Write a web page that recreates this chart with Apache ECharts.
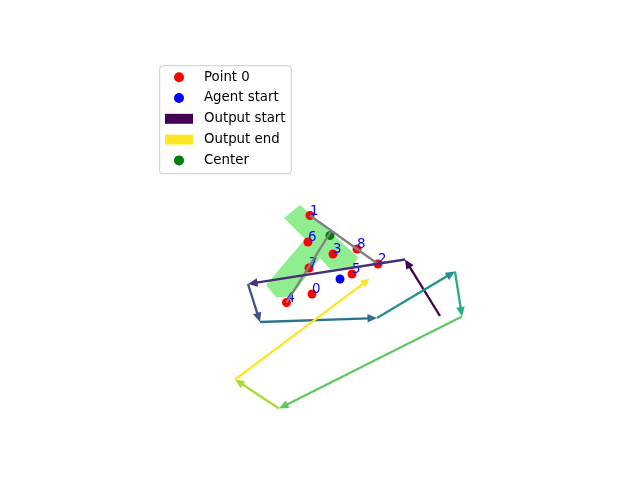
<!DOCTYPE html>
<html><head><meta charset="utf-8">
<script src="https://cdn.jsdelivr.net/npm/echarts@6/dist/echarts.min.js"></script>
<style>html,body{margin:0;padding:0;background:#fff}#chart{width:640px;height:480px}</style>
</head><body><div id="chart"></div>
<script>
// ---- data (figure units: x to the right, y downward) ----
const pointLabels = ['0', '1', '2', '3', '4', '5', '6', '7', '8'];
const pointX = [312, 310, 378, 333, 286.5, 352, 308, 309, 357];
const pointY = [294, 215.5, 264, 254, 302.5, 274, 242, 268, 249];
const agentStart = [340, 279];
const centerPoint = [330, 235.5];
const guideStartX = [310, 331.5];
const guideStartY = [215.5, 230.5];
const guideEndX = [378, 286.5];
const guideEndY = [264, 302.5];
const outputX = [440, 405, 248, 260, 377, 455, 462, 279, 235, 370];
const outputY = [316, 259.5, 284, 322, 318, 271.5, 316.5, 408.5, 379.5, 278.5];
const maskX = [300, 358, 352, 330, 320, 291, 276, 266, 305, 284];
const maskY = [205, 257, 268, 269, 258, 297, 297, 285, 239, 218];
const legendNames = ['Point 0', 'Agent start', 'Output start', 'Output end', 'Center'];

// ---- styles ----
const viridis = ['#440154', '#472d7b', '#3b528b', '#2c728e', '#21918c', '#28ae80', '#5ec962', '#addc30', '#fde725'];
const FONT = 'DejaVu Sans';
const HEAD_LEN = 9.5, HEAD_W = 8.5;
const LINE_W = 2.3;

const segments = [];
for (let i = 0; i < outputX.length - 1; i++) {
  segments.push([outputX[i], outputY[i], outputX[i + 1], outputY[i + 1], i]);
}
const guides = guideStartX.map((x, i) => [x, guideStartY[i], guideEndX[i], guideEndY[i]]);

function arrowRender(params, api) {
  const a = api.coord([api.value(0), api.value(1)]);
  const b = api.coord([api.value(2), api.value(3)]);
  const color = viridis[api.value(4)];
  const dx = b[0] - a[0], dy = b[1] - a[1];
  const len = Math.hypot(dx, dy);
  const ux = dx / len, uy = dy / len;
  const base = [b[0] - ux * HEAD_LEN, b[1] - uy * HEAD_LEN];
  const hw = HEAD_W / 2;
  return {
    type: 'group',
    children: [
      { type: 'line', shape: { x1: a[0], y1: a[1], x2: base[0] + ux, y2: base[1] + uy },
        style: { stroke: color, lineWidth: LINE_W } },
      { type: 'polygon', shape: { points: [b, [base[0] - uy * hw, base[1] + ux * hw], [base[0] + uy * hw, base[1] - ux * hw]] },
        style: { fill: color } }
    ]
  };
}

function guideRender(params, api) {
  const a = api.coord([api.value(0), api.value(1)]);
  const b = api.coord([api.value(2), api.value(3)]);
  return { type: 'line', shape: { x1: a[0], y1: a[1], x2: b[0], y2: b[1] },
           style: { stroke: '#808080', lineWidth: LINE_W } };
}

const labelStyle = {
  show: true, position: [4.5, 4.5], align: 'left', verticalAlign: 'bottom',
  formatter: p => pointLabels[p.data[2]], color: '#0000ff', fontFamily: FONT, fontSize: 13.33,
  lineHeight: 14, offset: [0, 3]
};
const pts = pointX.map((x, i) => [x, pointY[i], i]);

const chart = echarts.init(document.getElementById('chart'));
chart.setOption({
  animation: false,
  backgroundColor: '#ffffff',
  grid: { left: 0, right: 0, top: 0, bottom: 0 },
  xAxis: { type: 'value', min: 0, max: 640, show: false },
  yAxis: { type: 'value', min: 0, max: 480, inverse: true, show: false },
  legend: {
    orient: 'vertical', left: 159.7, top: 65.7,
    data: [
      { name: legendNames[0], icon: 'circle', itemStyle: { color: '#ff0000' } },
      { name: legendNames[1], icon: 'circle', itemStyle: { color: '#0000ff' } },
      { name: legendNames[2], icon: 'rect', itemStyle: { color: viridis[0] } },
      { name: legendNames[3], icon: 'rect', itemStyle: { color: viridis[8] } },
      { name: legendNames[4], icon: 'circle', itemStyle: { color: '#008000' } }
    ],
    itemWidth: 28, itemHeight: 10, itemGap: 6.8,
    padding: [4.5, 5.7, 6.4, 5.3],
    backgroundColor: 'rgba(255,255,255,0.8)', borderColor: '#cccccc', borderWidth: 1, borderRadius: 3,
    textStyle: { fontFamily: FONT, fontSize: 13.33, color: '#000000', lineHeight: 14, padding: [0, 0, 0, 6] },
    selectedMode: false
  },
  series: [
    {
      type: 'custom', name: 'Mask', silent: true, z: 1,
      data: maskX.map((x, i) => [x, maskY[i]]),
      renderItem: function (params, api) {
        if (params.dataIndex !== 0) return null;
        const poly = maskX.map((x, i) => api.coord([x, maskY[i]]));
        return { type: 'polygon', shape: { points: poly }, style: { fill: '#90ee90' } };
      }
    },
    {
      type: 'scatter', name: legendNames[0], z: 2, symbolSize: 9, itemStyle: { color: '#ff0000', opacity: 1 },
      data: pts.slice(0, 1), label: labelStyle
    },
    {
      type: 'scatter', name: 'Points', z: 2, symbolSize: 9, itemStyle: { color: '#ff0000', opacity: 1 },
      data: pts.slice(1), label: labelStyle
    },
    {
      type: 'scatter', name: legendNames[1], z: 2, symbolSize: 9, itemStyle: { color: '#0000ff', opacity: 1 },
      data: [agentStart]
    },
    {
      type: 'scatter', name: legendNames[4], z: 2, symbolSize: 9, itemStyle: { color: '#008000', opacity: 1 },
      data: [centerPoint]
    },
    {
      type: 'custom', name: 'Guides', z: 3, silent: true,
      encode: { x: [0, 2], y: [1, 3] }, data: guides, renderItem: guideRender
    },
    {
      type: 'custom', name: legendNames[2], z: 4, itemStyle: { color: viridis[0] },
      encode: { x: [0, 2], y: [1, 3] }, data: segments.slice(0, 1), renderItem: arrowRender
    },
    {
      type: 'custom', name: 'Output path', z: 4, itemStyle: { color: viridis[4] },
      encode: { x: [0, 2], y: [1, 3] }, data: segments.slice(1, segments.length - 1), renderItem: arrowRender
    },
    {
      type: 'custom', name: legendNames[3], z: 4, itemStyle: { color: viridis[8] },
      encode: { x: [0, 2], y: [1, 3] }, data: segments.slice(segments.length - 1), renderItem: arrowRender
    }
  ]
});
</script></body></html>
